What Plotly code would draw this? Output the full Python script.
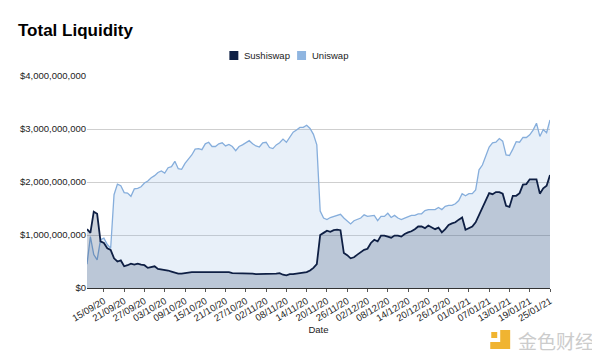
import numpy as np
import pandas as pd
import plotly.graph_objects as go

# ---- data (values in billions of USD, daily from 10/09/20 to 25/01/21) ----
dates = pd.date_range("2020-09-10", "2021-01-25", freq="D")

sushiswap_bn = [
    1.11, 1.04, 1.44, 1.40, 0.88, 0.85, 0.75, 0.72, 0.56, 0.50,
    0.52, 0.41, 0.43, 0.46, 0.44, 0.46, 0.44, 0.43, 0.38, 0.40,
    0.41, 0.36, 0.35, 0.35, 0.33, 0.31, 0.29, 0.27, 0.27, 0.28,
    0.30, 0.30, 0.30, 0.30, 0.30, 0.30, 0.30, 0.30, 0.30, 0.31,
    0.30, 0.31, 0.30, 0.28, 0.28, 0.27, 0.27, 0.28, 0.28, 0.27,
    0.26, 0.26, 0.26, 0.26, 0.26, 0.26, 0.27, 0.28, 0.25, 0.24,
    0.26, 0.26, 0.27, 0.27, 0.28, 0.30, 0.33, 0.38, 0.45, 1.00,
    1.04, 1.08, 1.06, 1.09, 1.10, 1.09, 0.66, 0.62, 0.56, 0.58,
    0.63, 0.67, 0.72, 0.74, 0.85, 0.91, 0.88, 0.99, 0.99, 0.97,
    0.95, 0.99, 0.99, 0.97, 1.02, 1.05, 1.07, 1.11, 1.16, 1.16,
    1.13, 1.18, 1.14, 1.11, 1.14, 1.05, 1.11, 1.19, 1.22, 1.24,
    1.29, 1.33, 1.10, 1.13, 1.16, 1.24, 1.38, 1.54, 1.66, 1.79,
    1.77, 1.81, 1.81, 1.78, 1.55, 1.53, 1.74, 1.74, 1.79, 1.95,
    1.96, 2.05, 2.05, 2.05, 1.78, 1.88, 1.93, 2.13,
]

uniswap_bn = [
    0.45, 0.97, 0.63, 0.53, 0.91, 0.94, 0.82, 0.75, 1.76, 1.96,
    1.93, 1.80, 1.79, 1.73, 1.87, 1.88, 1.91, 1.98, 2.02, 2.08,
    2.12, 2.18, 2.21, 2.17, 2.27, 2.29, 2.39, 2.25, 2.24, 2.35,
    2.43, 2.51, 2.62, 2.63, 2.61, 2.72, 2.75, 2.67, 2.67, 2.72,
    2.74, 2.68, 2.71, 2.67, 2.59, 2.67, 2.70, 2.74, 2.78, 2.72,
    2.68, 2.66, 2.74, 2.75, 2.65, 2.63, 2.70, 2.74, 2.81, 2.75,
    2.84, 2.94, 2.98, 3.03, 3.03, 3.07, 3.01, 2.90, 2.70, 1.45,
    1.32, 1.29, 1.33, 1.35, 1.37, 1.39, 1.32, 1.26, 1.21, 1.27,
    1.30, 1.32, 1.38, 1.35, 1.36, 1.37, 1.27, 1.35, 1.35, 1.41,
    1.33, 1.37, 1.32, 1.29, 1.32, 1.35, 1.37, 1.37, 1.40, 1.40,
    1.46, 1.48, 1.48, 1.48, 1.52, 1.48, 1.54, 1.56, 1.56, 1.59,
    1.65, 1.78, 1.74, 1.78, 1.78, 1.85, 2.23, 2.32, 2.49, 2.66,
    2.74, 2.75, 2.82, 2.77, 2.51, 2.50, 2.62, 2.76, 2.75, 2.84,
    2.84, 2.89, 2.98, 3.11, 2.86, 2.99, 2.93, 3.17,
]

series_names = ["Sushiswap", "Uniswap"]
y_tick_values = [0, 1e9, 2e9, 3e9, 4e9]
y_tick_labels = ["$0", "$1,000,000,000", "$2,000,000,000", "$3,000,000,000", "$4,000,000,000"]

sushi = np.array(sushiswap_bn) * 1e9
uni = np.array(uniswap_bn) * 1e9

SUSHI_LINE = "#0e1f44"
UNI_LINE = "#86aedc"
UNI_KEY = "#8fb5e0"

fig = go.Figure()

fig.add_trace(go.Scatter(
    x=dates, y=uni, mode="lines", name=series_names[1],
    line=dict(color=UNI_LINE, width=1.3),
    fill="tozeroy", fillcolor="rgba(140,180,225,0.2)",
    showlegend=False,
))
fig.add_trace(go.Scatter(
    x=dates, y=sushi, mode="lines", name=series_names[0],
    line=dict(color=SUSHI_LINE, width=1.8),
    fill="tozeroy", fillcolor="rgba(20,45,90,0.21)",
    showlegend=False,
))

# The page has an 8px body margin, so the figure is sized to fit the window.
OFF = 8
W, H = 600 - OFF, 355 - OFF
# plot-area edges in page pixels
L, R, T, B = 85, 550, 76, 288
def px(x):
    return (x - L) / (R - L)
def py(y):
    return (B - y) / (B - T)

fig.update_layout(
    width=W, height=H,
    margin=dict(l=L - OFF, r=600 - R, t=T - OFF, b=355 - B),
    paper_bgcolor="white", plot_bgcolor="white",
    font=dict(family="Arial, Liberation Sans, sans-serif", color="#222222", size=9),
    title=dict(text="<b>Total Liquidity</b>", x=(18 - OFF) / W, xanchor="left",
               y=1 - (30 - OFF) / H, yanchor="middle",
               font=dict(size=17, color="#000000")),
    showlegend=False,
    xaxis=dict(
        range=[dates[0], dates[-1]],
        tick0="2020-09-15", dtick=6 * 86400000,
        tickformat="%d/%m/%y", tickangle=-31,
        ticks="outside", ticklen=3, tickcolor="#555555",
        showgrid=False, showline=True, linecolor="#333333", linewidth=1,
        tickfont=dict(size=9.5, color="#222222"),
        title=dict(text="Date", font=dict(size=9.5, color="#222222"), standoff=3),
    ),
    yaxis=dict(
        range=[0, 4e9], tickvals=y_tick_values, ticktext=y_tick_labels,
        showgrid=True, gridcolor="#cfcfcf", gridwidth=1,
        zeroline=False, showline=False, ticks="",
        tickfont=dict(size=9.5, color="#222222"),
    ),
    hovermode=False,
)

# legend (drawn manually to match the compact spacing)
legend_keys = [(228, SUSHI_LINE, series_names[0]), (296, UNI_KEY, series_names[1])]
for kx, kcol, kname in legend_keys:
    fig.add_shape(type="rect", xref="paper", yref="paper",
                  x0=px(kx), x1=px(kx + 9), y0=py(60), y1=py(51),
                  fillcolor=kcol, line=dict(width=0))
    fig.add_annotation(text=kname, xref="paper", yref="paper", x=px(kx + 13), y=py(55.5),
                       xanchor="left", yanchor="middle", showarrow=False,
                       font=dict(size=9.5, color="#222222"))

# watermark
fig.add_annotation(text="金色财经", xref="paper", yref="paper", x=px(556), y=py(340),
                   xanchor="center", yanchor="middle", showarrow=False,
                   font=dict(family="Noto Sans CJK SC", size=19, color="#cccccc"))
fig.add_shape(type="rect", xref="paper", yref="paper",
              x0=px(491), x1=px(497), y0=py(338), y1=py(332),
              fillcolor="#f0b431", line=dict(width=0))
fig.add_shape(type="path", xref="paper", yref="paper",
              path=(f"M {px(500)},{py(330)} L {px(510)},{py(330)} L {px(510)},{py(349)} "
                    f"L {px(490)},{py(349)} L {px(490)},{py(342)} L {px(500)},{py(342)} Z"),
              fillcolor="#f0b431", line=dict(width=0))

fig.write_html("out.html")
